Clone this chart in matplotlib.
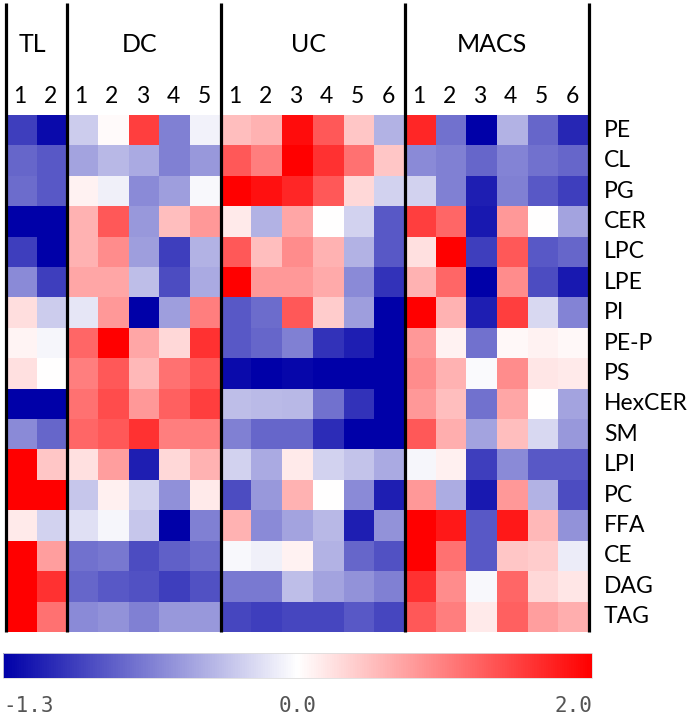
import numpy as np
import matplotlib
matplotlib.use("Agg")
import matplotlib.pyplot as plt
from matplotlib.colors import LinearSegmentedColormap, TwoSlopeNorm

plt.rcParams['font.family'] = ['Lato', 'DejaVu Sans']

groups = ["TL", "DC", "UC", "MACS"]
group_sizes = [2, 5, 6, 6]
lipids = ["PE", "CL", "PG", "CER", "LPC", "LPE", "PI", "PE-P", "PS",
          "HexCER", "SM", "LPI", "PC", "FFA", "CE", "DAG", "TAG"]

# values per group, one row per lipid
tl = [[-0.98, -1.24], [-0.78, -0.85], [-0.75, -0.85], [-1.3, -1.3],
      [-0.98, -1.3], [-0.59, -0.98], [0.26, -0.26], [0.08, -0.05],
      [0.24, 0.0], [-1.3, -1.3], [-0.59, -0.78], [2.0, 0.44],
      [2.0, 2.0], [0.16, -0.23], [2.0, 0.76], [2.0, 1.6], [2.0, 1.1]]
dc = [[-0.26, 0.04, 1.5, -0.65, -0.07],
      [-0.46, -0.36, -0.43, -0.65, -0.52],
      [0.1, -0.08, -0.59, -0.49, -0.04],
      [0.6, 1.3, -0.52, 0.5, 0.8],
      [0.6, 0.9, -0.49, -0.98, -0.39],
      [0.7, 0.7, -0.33, -0.91, -0.43],
      [-0.13, 0.8, -1.3, -0.49, 1.0],
      [1.2, 2.0, 0.7, 0.3, 1.6],
      [1.0, 1.3, 0.56, 1.1, 1.3],
      [1.1, 1.4, 0.8, 1.24, 1.5],
      [1.2, 1.3, 1.6, 1.0, 1.0],
      [0.24, 0.76, -1.14, 0.3, 0.6],
      [-0.29, 0.12, -0.23, -0.56, 0.16],
      [-0.16, -0.05, -0.29, -1.3, -0.65],
      [-0.72, -0.69, -0.91, -0.81, -0.75],
      [-0.78, -0.85, -0.88, -0.98, -0.88],
      [-0.59, -0.55, -0.65, -0.52, -0.52]]
uc = [[0.5, 0.6, 1.9, 1.3, 0.44, -0.39],
      [1.3, 1.0, 2.0, 1.6, 1.1, 0.44],
      [2.0, 1.86, 1.7, 1.3, 0.3, -0.23],
      [0.16, -0.39, 0.7, 0.0, -0.23, -0.85],
      [1.3, 0.5, 0.9, 0.6, -0.39, -0.85],
      [2.0, 0.8, 0.8, 0.66, -0.59, -1.04],
      [-0.85, -0.75, 1.3, 0.4, -0.49, -1.3],
      [-0.85, -0.78, -0.65, -1.04, -1.14, -1.3],
      [-1.24, -1.3, -1.26, -1.3, -1.3, -1.3],
      [-0.33, -0.35, -0.36, -0.72, -1.04, -1.3],
      [-0.65, -0.78, -0.78, -1.07, -1.3, -1.3],
      [-0.23, -0.43, 0.16, -0.23, -0.3, -0.43],
      [-0.91, -0.52, 0.6, 0.0, -0.59, -1.14],
      [0.6, -0.59, -0.46, -0.36, -1.14, -0.55],
      [-0.04, -0.08, 0.1, -0.39, -0.78, -0.88],
      [-0.68, -0.68, -0.33, -0.46, -0.55, -0.65],
      [-0.94, -0.98, -0.94, -0.94, -0.85, -0.94]]
macs = [[1.7, -0.72, -1.3, -0.39, -0.78, -1.1],
        [-0.59, -0.65, -0.78, -0.62, -0.72, -0.78],
        [-0.23, -0.65, -1.14, -0.65, -0.85, -0.98],
        [1.5, 1.2, -1.17, 0.8, 0.0, -0.46],
        [0.24, 2.0, -0.98, 1.3, -0.85, -0.78],
        [0.6, 1.2, -1.3, 0.9, -0.91, -1.17],
        [2.0, 0.6, -1.14, 1.5, -0.2, -0.62],
        [0.8, 0.1, -0.72, 0.06, 0.1, 0.06],
        [0.9, 0.6, -0.03, 0.9, 0.2, 0.16],
        [0.8, 0.5, -0.72, 0.7, 0.0, -0.46],
        [1.3, 0.64, -0.46, 0.5, -0.2, -0.52],
        [-0.05, 0.12, -0.98, -0.59, -0.85, -0.85],
        [0.8, -0.42, -1.17, 0.8, -0.39, -0.91],
        [2.0, 1.8, -0.85, 1.8, 0.56, -0.55],
        [2.0, 1.1, -0.85, 0.44, 0.4, -0.1],
        [1.6, 0.9, -0.04, 1.2, 0.3, 0.2],
        [1.3, 1.0, 0.16, 1.24, 0.76, 0.64]]

vmin, vmax = -1.3, 2.0

data = np.hstack([np.array(tl), np.array(dc), np.array(uc), np.array(macs)])
cmap = LinearSegmentedColormap.from_list("bwr2", ["#0000a8", "#ffffff", "#ff0000"])
norm = TwoSlopeNorm(vmin=vmin, vcenter=0.0, vmax=vmax)

W, H = 700, 720
fig = plt.figure(figsize=(W / 100, H / 100), dpi=100)

# heatmap area in pixels
x0, x1, ytop, ybot = 6, 589, 115, 632
ax = fig.add_axes([x0 / W, 1 - ybot / H, (x1 - x0) / W, (ybot - ytop) / H])
im = ax.imshow(data, cmap=cmap, norm=norm, aspect='auto', interpolation='nearest')
ax.set_xticks([])
ax.set_yticks([])
for s in ax.spines.values():
    s.set_visible(False)

ncol = data.shape[1]
for i, lab in enumerate(lipids):
    ax.text(ncol - 0.5 + 15 / ((x1 - x0) / ncol), i, lab, ha='left', va='center',
            fontsize=16.5)

# vertical separators and headers
ytr = ax.get_xaxis_transform()
top = (ybot - 3) / (ybot - ytop)
edges = np.concatenate([[0], np.cumsum(group_sizes)]) - 0.5
for e in edges:
    ax.plot([e, e], [0, top], color='black', lw=2.3, transform=ytr, clip_on=False,
            solid_capstyle='butt')
y_grp = (ybot - 45) / (ybot - ytop)
y_num = (ybot - 97) / (ybot - ytop)
for g, n, e in zip(groups, group_sizes, edges[:-1]):
    ax.text(e + n / 2 - 0.15, y_grp, g, transform=ytr, ha='center', va='center',
            fontsize=18)
    for k in range(n):
        ax.text(e + 0.5 + k - 0.05, y_num, str(k + 1), transform=ytr, ha='center',
                va='center', fontsize=16.5)

# colour bar
cax = fig.add_axes([3 / W, 1 - 678 / H, 589 / W, 25 / H])
cb = fig.colorbar(im, cax=cax, orientation='horizontal')
cb.set_ticks([])
cb.outline.set_edgecolor('#dddddd')
cb.outline.set_linewidth(0.6)
mono = dict(family='DejaVu Sans Mono', fontsize=15, color='#555555', va='center')
fig.text(3 / W, 1 - 706 / H, "-1.3", ha='left', **mono)
fig.text(298 / W, 1 - 706 / H, "0.0", ha='center', **mono)
fig.text(592 / W, 1 - 706 / H, "2.0", ha='right', **mono)

fig.savefig("out.png", dpi=100)
